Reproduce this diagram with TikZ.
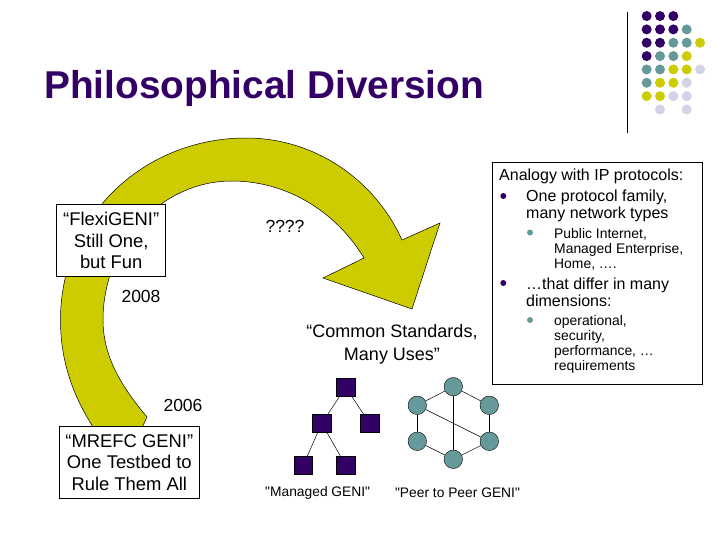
\documentclass[tikz,border=0pt]{standalone}
\usepackage{fontspec}
\setmainfont{Liberation Sans}
\newfontfamily\straightfont{Liberation Sans}
\definecolor{geniPurple}{HTML}{330066}
\definecolor{geniTeal}{HTML}{669999}
\definecolor{geniYellow}{HTML}{CCCC00}
\definecolor{geniLilac}{HTML}{D2D2E8}
\tikzset{
	callout/.style={draw=black, fill=white, line width=0.8pt, inner sep=0pt, align=center, font=\fontsize{18.4}{21.5}\selectfont},
	plain/.style={inner sep=0pt, align=center},
	tree/.style={draw=black, line width=0.4pt, fill=geniPurple, minimum size=18.5pt, inner sep=0pt},
	peer/.style={circle, draw=black, line width=0.4pt, fill=geniTeal, minimum size=18.5pt, inner sep=0pt},
	spot/.style={circle, fill=#1, minimum size=10pt, inner sep=0pt},
	listA/.style={inner sep=0pt, anchor=west, align=left, font=\fontsize{16}{17}\selectfont},
	listB/.style={inner sep=0pt, anchor=west, align=left, font=\fontsize{13.9}{15}\selectfont},
	bulA/.style={circle, fill=geniPurple, minimum size=6pt, inner sep=0pt},
	bulB/.style={circle, fill=geniTeal, minimum size=6pt, inner sep=0pt}
}
\begin{document}
\begin{tikzpicture}[x=1pt, y=-1pt]
	\useasboundingbox (0,0) rectangle (720,540);
	% Corner dots
	\foreach \x/\y in {1/1,2/1,3/1,1/2,2/2,3/2,1/3,2/3,1/4} {
	\node[spot=geniPurple] (p\x\y) at ({633.3+13.35*\x},{2.7+13.35*\y}) {};
	}
	\foreach \x/\y in {4/2,3/3,4/3,2/4,3/4,1/5,2/5,1/6} {
	\node[spot=geniTeal] (t\x\y) at ({633.3+13.35*\x},{2.7+13.35*\y}) {};
	}
	\foreach \x/\y in {5/3,4/4,3/5,4/5,2/6,3/6,1/7,2/7} {
	\node[spot=geniYellow] (y\x\y) at ({633.3+13.35*\x},{2.7+13.35*\y}) {};
	}
	\foreach \x/\y in {5/5,4/6,3/7,4/7,2/8,4/8} {
	\node[spot=geniLilac] (l\x\y) at ({633.3+13.35*\x},{2.7+13.35*\y}) {};
	}
	\coordinate (ruleTop) at (627.5,12);
	\coordinate (ruleEnd) at (627.5,133);
	\draw[line width=0.8pt] (ruleTop) -- (ruleEnd);
	% Title
	\node[plain, anchor=west, text=geniPurple, font=\fontsize{38.8}{42}\selectfont\bfseries] (title) at (44,88) {Philosophical Diversion};
	% Big arrow
	\draw[fill=geniYellow, line width=0.5pt] (95,430) .. controls (72,395) and (60.5,360) .. (60.5,320)
		.. controls (60.5,215) and (145,138) .. (246,138)
		.. controls (315,138) and (375,180) .. (402,240)
		-- (440,223) -- (412,309) -- (323,278) -- (364,258)
		.. controls (335,210) and (285,181) .. (232,181)
		.. controls (160,181) and (103,245) .. (103,320)
		.. controls (103,355) and (120,385) .. (147,417) -- (141,430) -- cycle;
	% Boxes on the arrow
	\node[callout, minimum width=109pt, minimum height=72.4pt] (flexi) at (111.2,240.5) {“FlexiGENI”\\Still One,\\but Fun};
	\node[callout, minimum width=140pt, minimum height=72pt] (mrefc) at (129.3,462.3) {“MREFC GENI”\\One Testbed to\\Rule Them All};
	\node[plain, font=\fontsize{17.5}{20}\selectfont] (unknown) at (285,226) {????};
	\node[plain, font=\fontsize{17.5}{20}\selectfont] (yearB) at (141,296) {2008};
	\node[plain, font=\fontsize{17.5}{20}\selectfont] (yearA) at (183,405) {2006};
	\node[plain, font=\fontsize{18}{23}\selectfont] (common) at (392,344) {“Common Standards,\\Many Uses”};
	% Analogy box
	\node[draw=black, line width=0.8pt, minimum width=209.6pt, minimum height=222pt, inner sep=0pt] (analogy) at (597.5,273.3) {};
	\node[listA] (head) at (499,176) {Analogy with IP protocols:};
	\node[bulA] (b1) at (503.3,196) {};
	\node[listA] (one) at (526,205.5) {One protocol family,\\many network types};
	\node[bulB] (b2) at (530,232.5) {};
	\node[listB] (pub) at (554,249) {Public Internet,\\Managed Enterprise,\\Home, ….};
	\node[bulA] (b3) at (503.3,283) {};
	\node[listA] (differ) at (526,292) {…that differ in many\\dimensions:};
	\node[bulB] (b4) at (530,320) {};
	\node[listB] (oper) at (554,344) {operational,\\security,\\performance, …\\requirements};
	% Managed tree
	\node[tree] (root) at (345.7,387.3) {};
	\node[tree] (left) at (321.7,423.3) {};
	\node[tree] (right) at (369.7,423.3) {};
	\node[tree] (leafA) at (303.3,465.3) {};
	\node[tree] (leafB) at (345.7,465.3) {};
	\foreach \a/\b in {root/left,root/right,left/leafA,left/leafB} {
	\draw[line width=0.5pt] (\a) -- (\b);
	}
	% Peer ring
	\node[peer] (n1) at (453.3,386.7) {};
	\node[peer] (n2) at (489.3,405.3) {};
	\node[peer] (n3) at (489.3,441.3) {};
	\node[peer] (n4) at (453.3,459.3) {};
	\node[peer] (n5) at (417.3,441.3) {};
	\node[peer] (n6) at (417.3,405.3) {};
	\foreach \a/\b in {n1/n2,n2/n3,n3/n4,n4/n5,n5/n6,n6/n1,n1/n4,n6/n3} {
	\draw[line width=0.5pt] (\a) -- (\b);
	}
	\node[plain, font=\fontsize{13.8}{15}\selectfont\straightfont] (managed) at (317.7,492.5) {"Managed GENI"};
	\node[plain, font=\fontsize{13.8}{15}\selectfont\straightfont] (ptp) at (457.5,492.5) {"Peer to Peer GENI"};
\end{tikzpicture}
\end{document}
